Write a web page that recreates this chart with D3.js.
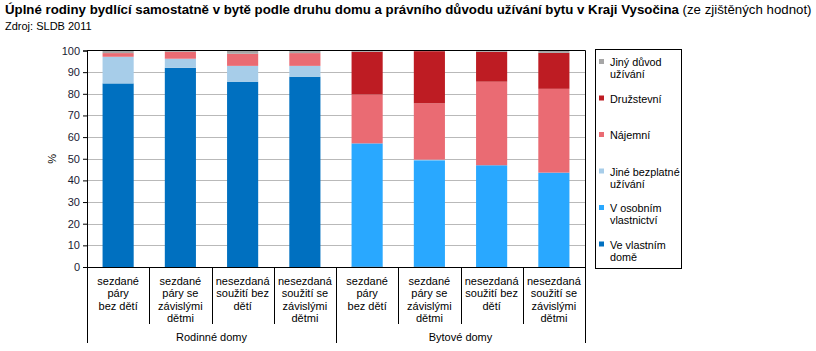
<!DOCTYPE html>
<html>
<head>
<meta charset="utf-8">
<script src="https://cdn.jsdelivr.net/npm/d3@7"></script>
<style>
  body { margin: 0; background: #fff; }
  text { font-family: "Liberation Sans", Arial, sans-serif; }
</style>
</head>
<body>
<div id="main"></div>
<script>
const ctx = {
    width: 816,
    height: 351,
    plot: {left: 87, right: 585, top: 50.5, bottom: 267}
};

// data (percent)
const groups = ["Rodinné domy", "Bytové domy"];
const categoryLines = [
    ["sezdané", "páry", "bez dětí"],
    ["sezdané", "páry se", "závislými", "dětmi"],
    ["nesezdaná", "soužití bez", "dětí"],
    ["nesezdaná", "soužití se", "závislými", "dětmi"]
];
const seriesNames = ["Ve vlastním domě", "V osobním vlastnictví", "Jiné bezplatné užívání", "Nájemní", "Družstevní", "Jiný důvod užívání"];
const veVlastnimDome      = [84.8, 92.0, 85.6, 87.9, 0.3, 0.3, 0, 0];
const vOsobnimVlastnictvi = [0, 0, 0, 0, 56.8, 49.0, 47.0, 43.6];
const jineBezplatne       = [12.3, 4.2, 7.3, 5.0, 0, 0.3, 0, 0];
const najemni             = [1.7, 3.2, 5.6, 5.9, 22.6, 26.0, 38.6, 38.7];
const druzstevni          = [0, 0, 0, 0, 19.7, 24.1, 13.8, 16.6];
const jinyDuvod           = [1.2, 0.6, 1.5, 1.2, 0.6, 0.3, 0.6, 1.1];
const yTicks = [0, 10, 20, 30, 40, 50, 60, 70, 80, 90, 100];
const colors = ["#0070c0", "#29a8ff", "#a7cde9", "#ea6b73", "#be1c23", "#a6a6a6"];

function createViz() {
    const p = ctx.plot;
    const svg = d3.select("#main").append("svg")
        .attr("width", ctx.width)
        .attr("height", ctx.height);

    // title
    const title = svg.append("text").attr("x", 5).attr("y", 14).style("font-size", "13.25px");
    title.append("tspan").style("font-weight", "bold")
        .text("Úplné rodiny bydlící samostatně v bytě podle druhu domu a právního důvodu užívání bytu v Kraji Vysočina");
    title.append("tspan").text(" (ze zjištěných hodnot)");
    svg.append("text").attr("x", 5).attr("y", 30).style("font-size", "11px").text("Zdroj: SLDB 2011");

    const nCat = categoryLines.length * groups.length;
    const rows = d3.range(nCat).map(i => ({
        i: i,
        [seriesNames[0]]: veVlastnimDome[i],
        [seriesNames[1]]: vOsobnimVlastnictvi[i],
        [seriesNames[2]]: jineBezplatne[i],
        [seriesNames[3]]: najemni[i],
        [seriesNames[4]]: druzstevni[i],
        [seriesNames[5]]: jinyDuvod[i]
    }));

    const x = d3.scaleBand().domain(d3.range(nCat)).range([p.left, p.right])
        .paddingInner(0.5).paddingOuter(0.25);
    const y = d3.scaleLinear().domain([0, 100]).range([p.bottom, p.top]);
    const color = d3.scaleOrdinal().domain(seriesNames).range(colors);

    // gridlines
    svg.append("g")
        .selectAll("line")
        .data(yTicks.slice(1, -1))
        .enter().append("line")
        .attr("x1", p.left).attr("x2", p.right)
        .attr("y1", d => Math.round(y(d)) + 0.5).attr("y2", d => Math.round(y(d)) + 0.5)
        .attr("stroke", "#b9b9b9");

    // bars
    const stacked = d3.stack().keys(seriesNames)(rows);
    svg.append("g")
        .selectAll("g")
        .data(stacked)
        .enter().append("g")
        .attr("fill", d => color(d.key))
        .selectAll("rect")
        .data(d => d)
        .enter().append("rect")
        .attr("x", d => x(d.data.i))
        .attr("width", x.bandwidth())
        .attr("y", d => y(d[1]))
        .attr("height", d => y(d[0]) - y(d[1]));

    // frame: top + right
    svg.append("path")
        .attr("d", `M${p.left},${p.top}H${p.right + 0.5}V${p.bottom}`)
        .attr("fill", "none").attr("stroke", "#000");

    // y axis
    const yAxis = svg.append("g")
        .attr("transform", `translate(${p.left},0)`)
        .call(d3.axisLeft(y).tickValues(yTicks).tickSize(4).tickPadding(3));
    yAxis.select(".domain").attr("stroke", "#000");
    yAxis.selectAll("text").style("font-size", "11px").attr("fill", "#1a1a33")
        .style("font-family", "'Liberation Sans', Arial, sans-serif");

    svg.append("text")
        .attr("transform", `translate(56,${(p.top + p.bottom) / 2}) rotate(-90)`)
        .attr("text-anchor", "middle")
        .style("font-size", "11px")
        .text("%");

    // x axis line and category dividers
    const step = x.step();
    const xa = svg.append("g");
    xa.append("line")
        .attr("x1", p.left).attr("x2", p.right + 0.5)
        .attr("y1", p.bottom + 0.5).attr("y2", p.bottom + 0.5)
        .attr("stroke", "#000");
    d3.range(nCat + 1).forEach(k => {
        const outer = k % categoryLines.length === 0;
        const xx = Math.round(p.left + k * step) + 0.5;
        xa.append("line")
            .attr("x1", xx).attr("x2", xx)
            .attr("y1", p.bottom).attr("y2", outer ? 343 : 324)
            .attr("stroke", "#000");
    });

    // category labels
    rows.forEach(r => {
        const lines = categoryLines[r.i % categoryLines.length];
        const t = xa.append("text")
            .attr("text-anchor", "middle")
            .style("font-size", "11px");
        lines.forEach((l, j) => {
            t.append("tspan")
                .attr("x", x(r.i) + x.bandwidth() / 2)
                .attr("y", 285 + j * 12.3)
                .text(l);
        });
    });

    // group labels
    groups.forEach((g, gi) => {
        const x0 = p.left + gi * categoryLines.length * step;
        xa.append("text")
            .attr("x", x0 + categoryLines.length * step / 2)
            .attr("y", 341)
            .attr("text-anchor", "middle")
            .style("font-size", "11px")
            .text(g);
    });

    // legend (top item = last series)
    const legend = svg.append("g");
    legend.append("rect")
        .attr("x", 595.5).attr("y", 49.5)
        .attr("width", 86).attr("height", 219)
        .attr("fill", "#fff").attr("stroke", "#000");
    const legendLines = [["Jiný důvod", "užívání"], ["Družstevní"], ["Nájemní"], ["Jiné bezplatné", "užívání"], ["V osobním", "vlastnictví"], ["Ve vlastním", "domě"]];
    seriesNames.slice().reverse().forEach((name, k) => {
        const yy = 62 + k * 36.5;
        legend.append("rect")
            .attr("x", 599).attr("y", yy - 3)
            .attr("width", 5).attr("height", 5)
            .attr("fill", color(name));
        const t = legend.append("text").style("font-size", "10.8px");
        legendLines[k].forEach((l, j) => {
            t.append("tspan").attr("x", 610).attr("y", yy + 4 + j * 12.3).text(l);
        });
    });
}

createViz();
</script>
</body>
</html>
